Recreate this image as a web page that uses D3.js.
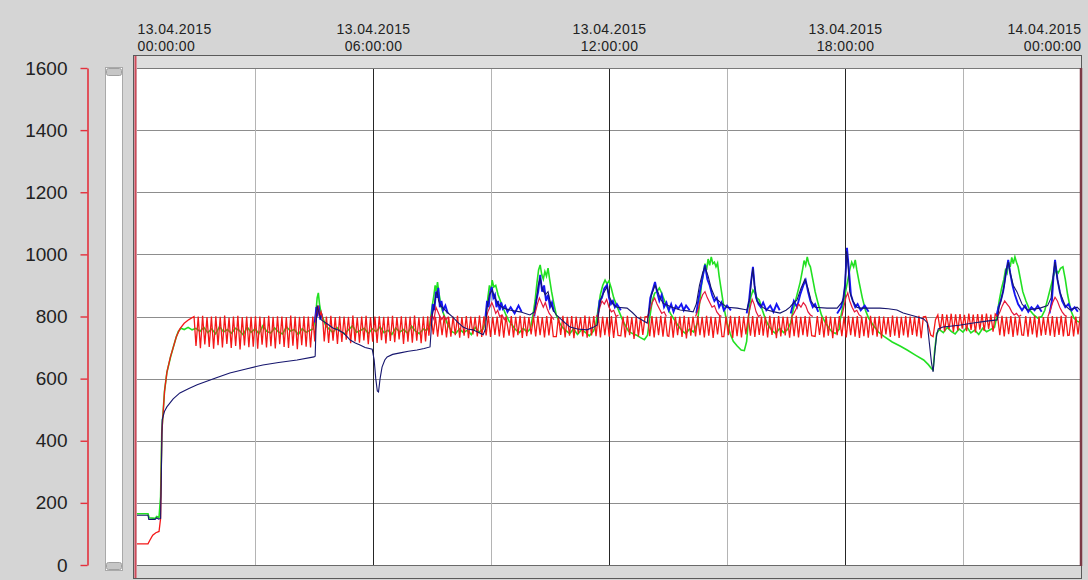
<!DOCTYPE html>
<html>
<head>
<meta charset="utf-8">
<script src="https://cdn.jsdelivr.net/npm/d3@7"></script>
<style>
  html, body { margin: 0; padding: 0; background: #d5d5d5; }
  svg { display: block; font-family: Arial, "Liberation Sans", sans-serif; }
</style>
</head>
<body>
<svg id="chart" width="1088" height="580"></svg>
<script>
// ---- data (hours since 13.04.2015 00:00, value) ----

const yTickValues = [0, 200, 400, 600, 800, 1000, 1200, 1400, 1600];
const xTickHours = [0, 6, 12, 18, 24];
const minorGridHours = [3, 9, 15, 21];
const majorGridHours = [6, 12, 18];

// dunkelblau (glatte Linie)
const navyPoints = [
  [0,160],[0.28,160],[0.30,147],[0.46,147],[0.50,152],[0.55,148],[0.60,150],[0.62,300],[0.64,467],
  [0.70,495],[0.76,509],[0.92,535],[1.09,554],[1.32,568],[1.53,580],[2.0,602],[2.36,618],[2.8,632],
  [3.20,644],[3.6,652],[4.07,660],[4.50,670],[4.53,672],[4.55,760],[4.58,835],[4.62,815],[4.68,790],
  [4.73,785],[4.85,775],[4.98,763],[5.1,757],[5.24,748],[5.34,735],[5.42,724],[5.55,715],[5.67,708],
  [5.8,700],[5.98,695],[6.03,660],[6.07,600],[6.11,560],[6.14,557],[6.18,600],[6.23,637],[6.30,660],
  [6.36,670],[6.5,678],[6.69,683],[6.9,688],[7.12,692],[7.3,697],[7.45,702],[7.47,740],[7.50,800],
  [7.55,830],[7.6,870],[7.63,880],[7.67,850],[7.72,835],[7.78,827],[7.9,812],[8.03,798],[8.15,782],
  [8.29,766],[8.4,760],[8.54,757],[8.7,748],[8.80,741],[8.86,760],[8.90,830],[8.96,870],[9.03,885],
  [9.1,860],[9.18,840],[9.31,827],[9.5,820],[9.74,815],[9.99,805],[10.1,815],[10.15,850],[10.2,900],
  [10.25,925],[10.3,890],[10.38,870],[10.45,880],[10.52,840],[10.58,821],[10.66,805],[10.75,795],
  [10.88,780],[11.01,766],[11.2,760],[11.44,757],[11.6,765],[11.70,773],[11.74,820],[11.8,860],
  [11.88,880],[11.95,895],[12.02,860],[12.1,840],[12.20,830],[12.46,827],[12.6,812],[12.71,798],
  [12.85,788],[12.97,779],[13.02,820],[13.08,870],[13.17,900],[13.24,880],[13.30,860],[13.37,843],
  [13.6,830],[13.81,821],[14.0,818],[14.14,815],[14.22,840],[14.30,900],[14.38,940],[14.44,960],
  [14.52,930],[14.60,890],[14.70,860],[14.82,847],[15.00,830],[15.26,827],[15.51,821],[15.58,860],
  [15.63,930],[15.66,955],[15.70,900],[15.76,850],[15.9,830],[16.02,821],[16.2,815],[16.35,811],
  [16.5,820],[16.60,830],[16.70,845],[16.78,853],[16.88,890],[16.98,920],[17.06,890],[17.14,850],
  [17.24,830],[17.54,827],[17.80,827],[17.95,850],[18.0,900],[18.04,1010],[18.07,980],[18.12,880],
  [18.2,850],[18.3,830],[18.38,827],[18.64,827],[18.89,827],[19.1,825],[19.32,821],[19.48,811],
  [19.8,800],[20.0,792],[20.09,780],[20.14,720],[20.20,650],[20.24,622],[20.28,680],[20.33,740],
  [20.37,760],[20.49,766],[20.9,772],[21.26,779],[21.6,785],[21.87,789],[21.92,830],[21.98,860],
  [22.05,900],[22.1,950],[22.15,975],[22.2,940],[22.28,900],[22.37,880],[22.5,840],[22.63,821],
  [22.96,827],[23.15,835],[23.24,860],[23.30,940],[23.34,975],[23.40,920],[23.47,876],[23.6,835],
  [23.72,821],[23.90,830],[24,818]
];

// blau (nur an den Spitzen sichtbar)
const blueSegments = [
  [[4.52,780],[4.56,830],[4.58,800],[4.62,835],[4.66,790],[4.70,810]],
  [[7.48,780],[7.52,840],[7.56,820],[7.60,880],[7.63,860],[7.66,892],[7.70,830],[7.74,850],[7.78,820],[7.84,835],[7.9,810]],
  [[8.86,800],[8.9,850],[8.94,830],[8.98,880],[9.02,895],[9.06,860],[9.1,870],[9.14,830],[9.18,850],[9.22,820],
   [9.26,845],[9.3,825],[9.36,835],[9.42,815],[9.5,830],[9.6,810],[9.7,835],[9.78,815]],
  [[10.1,800],[10.15,850],[10.2,880],[10.25,934],[10.3,880],[10.35,900],[10.4,850],[10.45,870],[10.5,830],[10.55,845],[10.6,815]],
  [[11.72,800],[11.76,850],[11.82,860],[11.88,890],[11.95,901],[12.0,860],[12.05,840],[12.1,850],[12.15,830],[12.2,840],[12.3,820]],
  [[13.0,800],[13.05,860],[13.1,880],[13.17,911],[13.22,880],[13.28,850],[13.34,870],[13.4,830],[13.46,845],[13.52,820],
   [13.58,840],[13.64,815],[13.7,835],[13.76,825],[13.84,840],[13.9,820],[13.96,835],[14.05,820]],
  [[14.22,810],[14.28,860],[14.34,900],[14.4,940],[14.44,966],[14.5,920],[14.56,900],[14.62,870],[14.68,850],
   [14.74,860],[14.8,830],[14.86,845],[14.92,820],[15.0,835],[15.1,820]],
  [[15.5,810],[15.56,850],[15.6,900],[15.66,960],[15.7,900],[15.74,860],[15.8,840],[15.86,830],[15.92,845],[16.0,820],
   [16.1,835],[16.18,815],[16.26,840],[16.34,820]],
  [[16.62,810],[16.7,850],[16.78,830],[16.86,870],[16.94,900],[17.0,917],[17.06,880],[17.12,850],[17.18,830],[17.24,840],[17.32,815]],
  [[17.8,810],[17.9,830],[17.96,860],[18.0,900],[18.05,1021],[18.1,950],[18.15,870],[18.2,850],[18.26,830],[18.32,840],
   [18.4,820],[18.5,835],[18.6,815]],
  [[21.85,800],[21.9,830],[21.96,850],[22.02,880],[22.08,930],[22.15,982],[22.2,940],[22.26,900],[22.32,870],[22.4,840],
   [22.5,820],[22.58,835],[22.66,815],[22.74,830],[22.82,820],[22.9,835],[23.0,815]],
  [[23.2,810],[23.26,850],[23.3,930],[23.34,982],[23.4,920],[23.46,880],[23.52,850],[23.6,830],[23.68,840],[23.76,820],[23.84,830],[23.92,815]]
];

// rot: Anlauf, Spitze und Einbruch als Punkte, Saegezahn als Abschnitte mit festem Zeitschritt
const redStep = 0.056;
const redPoints = [
  [0,68],[0.28,68],[0.32,78],[0.40,96],[0.48,104],[0.56,108],[0.60,150],[0.63,420],[0.70,560],[0.76,620],
  [0.85,670],[0.92,700],[1.0,735],[1.09,760],[1.2,778],[1.32,790],[1.45,800],
  [4.47,800],[4.52,720],[4.56,810],[4.60,835],[4.64,800],[4.68,815],[4.72,795],
  [20.05,800],[20.12,770],[20.18,740],[20.24,735],[20.30,790],[20.36,805]
];
const redSaw = [
  [1.50, [705,800,698,802,710,798,702,800,696,801, 708,799,700,803,712,797,699,800,705,802,
          694,798,707,800,701,799,703,801,696,800, 709,798,700,802,704,799,697,801,711,800,
          702,798,699,803,706,800,695,799,708,801, 703,800,700]],
  [4.76, [720,800,715,802,722,798,712,801,718,800, 725,799,714,803,720,797,716,800,723,802,
          711,798,719,800,715,801,724,799,713,800, 721,802,717,798,726,801,712,799,719,800,
          716,803,722,797,714,800,720,801]],
  [7.42, [738,801,742,799,735,802,740,800,733,798]],
  [7.98, [735,800,740,802,732,798,738,801,730,800,742,799,736,803,734]],
  [8.82, [800,739,802,734,799,741,800,736,803,732,800]],
  [9.46, [738,801,733,799,740,802,731,800,737,798,742]],
  [10.08, [800,736,802,740,798,733,801,739,800,735]],
  [10.66, [735,800,741,802,733,799,738,801,730,800,744,798,736,803,732,800,739,801]],
  [11.67, [737,802,733,800,740,798,735,801,731,799,739]],
  [12.30, [738,800,733,802,740,798,728,801,736,800,741,799]],
  [12.98, [800,737,801,733,799,740,802,735,800,738]],
  [13.52, [736,801,732,799,740,800,734,802,729,798,738,800]],
  [14.20, [736,801,740,799,733,802,738,800,731,798,742,801,735]],
  [14.92, [735,800,740,802,731,799,737,801,733,800,742]],
  [15.54, [800,738,801,734,799,741,800]],
  [15.92, [738,800,733,802,741,798,730,801,736,800,739,799,732]],
  [16.65, [800,737,802,733,799,740,801,735,800,738]],
  [17.24, [736,801,741,799,733,802,738,800,730,798,740,801]],
  [17.92, [737,800,733,802,740,799,735,801,731,800]],
  [18.48, [737,800,732,802,740,799,735,801,729,800, 742,798,734,803,738,800,731,799,739,801,
           733,800,741,798,736,802,730,799]],
  [20.42, [756,808,752,806,759,809,750,807,755,808, 761,805,753,809,757,806,749,808,758,807,
           754,809,760,806,751,808]],
  [21.88, [800,740,802,736,799,743,801,734,800,739,798,741]],
  [22.54, [740,801,735,799,742,802,733,800,738,798,741]],
  [23.16, [800,738,801,734,799,741,802,736,800,739]],
  [23.70, [740,802,736,800,742,801]]
];
// rote Buckel an den Spitzen (liegen ueber dem Saegezahn)
const redPeaks = [
  [[7.45,790],[7.50,805],[7.55,790],[7.60,830],[7.65,815],[7.70,800],[7.75,790],[7.80,802],[7.86,790],[7.92,800]],
  [[8.82,800],[8.87,790],[8.92,815],[8.97,830],[9.02,845],[9.07,830],[9.12,810],[9.17,820],[9.22,800],[9.28,805],[9.34,790],[9.40,800]],
  [[10.08,800],[10.13,815],[10.18,840],[10.23,860],[10.28,845],[10.33,830],[10.38,845],[10.43,825],[10.48,810],[10.54,800],[10.60,790]],
  [[11.67,800],[11.72,805],[11.77,830],[11.82,850],[11.88,840],[11.94,855],[12.0,830],[12.06,815],[12.12,820],[12.18,800],[12.24,805]],
  [[12.98,800],[13.04,820],[13.10,845],[13.16,860],[13.22,840],[13.28,825],[13.34,810],[13.40,815],[13.46,800]],
  [[14.20,800],[14.26,820],[14.32,850],[14.38,870],[14.44,880],[14.50,860],[14.56,845],[14.62,830],[14.68,835],[14.74,815],[14.80,805],[14.86,800]],
  [[15.54,800],[15.59,830],[15.64,855],[15.69,840],[15.74,815],[15.80,800],[15.86,805]],
  [[16.65,800],[16.70,810],[16.76,825],[16.82,840],[16.88,830],[16.94,845],[17.00,835],[17.06,815],[17.12,805],[17.18,800]],
  [[17.92,800],[17.97,830],[18.02,860],[18.07,876],[18.12,850],[18.18,830],[18.24,815],[18.30,820],[18.36,805],[18.42,800]],
  [[21.88,800],[21.94,815],[22.0,835],[22.06,850],[22.12,840],[22.18,830],[22.24,815],[22.30,805],[22.36,810],[22.42,800],[22.48,805]],
  [[23.16,800],[23.22,820],[23.28,845],[23.34,862],[23.40,850],[23.46,830],[23.52,815],[23.58,805],[23.64,800]]
];

// gruen: Spitzen als Punkte, Band als Abschnitte mit festem Zeitschritt
const greenStep = 0.1;
const greenPoints = [
  [0,165],[0.28,165],[0.31,152],[0.46,150],[0.50,156],[0.56,153],[0.60,220],[0.63,430],[0.70,560],[0.76,620],
  [0.85,668],[0.92,700],[1.0,735],[1.05,752],[1.12,762],[1.2,758],[1.3,765],[1.4,757],[1.5,762],
  [4.48,760],[4.54,800],[4.58,860],[4.61,876],[4.64,840],[4.68,810],[4.74,790],[4.80,770],
  [7.36,755],[7.44,770],[7.50,830],[7.55,870],[7.58,900],[7.61,880],[7.64,911],[7.67,880],[7.71,850],[7.76,820],
  [7.82,800],[7.88,780],[7.94,765],
  [8.80,760],[8.86,790],[8.92,860],[8.96,900],[9.00,880],[9.03,917],[9.07,895],[9.12,900],[9.18,870],[9.24,850],
  [9.30,830],[9.38,805],[9.46,785],[9.55,770],
  [10.0,760],[10.06,800],[10.12,850],[10.17,910],[10.21,950],[10.25,966],[10.29,935],[10.33,920],[10.37,945],
  [10.41,930],[10.45,956],[10.49,920],[10.54,880],[10.60,840],[10.66,805],[10.74,780],[10.82,765],
  [11.66,770],[11.72,820],[11.78,870],[11.84,900],[11.90,917],[11.95,905],[12.0,915],[12.06,890],[12.12,860],
  [12.18,840],[12.26,815],[12.34,790],[12.42,770],
  [12.98,740],[13.04,800],[13.10,850],[13.16,875],[13.22,880],[13.28,892],[13.34,875],[13.40,855],[13.48,830],
  [13.56,810],[13.66,790],[13.76,770],
  [14.25,780],[14.30,840],[14.35,900],[14.40,940],[14.44,970],[14.48,950],[14.52,985],[14.56,965],[14.60,992],
  [14.64,970],[14.68,975],[14.72,960],[14.76,972],[14.80,930],[14.86,880],[14.92,830],[15.0,780],[15.08,745],
  [15.16,720],[15.26,705],[15.36,692],[15.44,690],[15.50,720],[15.55,800],[15.60,860],[15.66,885],[15.71,875],
  [15.76,860],[15.82,853],[15.90,820],[15.98,790],[16.06,770],
  [16.62,780],[16.68,820],[16.74,850],[16.80,880],[16.86,910],[16.92,950],[16.96,980],[17.00,965],[17.04,992],
  [17.08,970],[17.12,960],[17.18,920],[17.24,880],[17.32,840],[17.40,805],[17.50,780],[17.58,765],
  [17.88,790],[17.94,830],[18.00,870],[18.06,910],[18.12,950],[18.17,975],[18.22,960],[18.26,982],[18.30,950],
  [18.36,910],[18.44,860],[18.52,820],[18.60,795],[18.70,775],[18.85,750],[19.0,735],[19.2,718],[19.4,705],
  [19.58,692],[19.8,675],[20.0,660],[20.12,645],[20.2,632],[20.24,628],[20.28,690],[20.33,745],
  [21.80,765],[21.86,800],[21.92,850],[21.98,890],[22.04,920],[22.08,950],[22.12,940],[22.16,975],[22.20,960],
  [22.24,990],[22.28,970],[22.32,992],[22.36,975],[22.40,960],[22.46,920],[22.52,880],[22.60,850],[22.70,820],
  [22.80,805],[22.90,795],[23.00,800],[23.08,820],[23.16,860],[23.24,900],[23.30,930],[23.36,950],[23.42,940],
  [23.48,955],[23.54,960],[23.60,920],[23.66,870],[23.74,820],[23.82,795],[23.90,785],[24,780]
];
const greenBand = [
  [1.6, [752,765,748,760,744,768,750,758,746,762, 755,741,766,749,760,745,770,752,747,763, 750,744,767,753,758,742,761,749,756]],
  [4.88, [760,748,765,752,744,758,770,749,755,762, 745,760,751,767,748,756,742,763,750,758, 746,769,753,745,760]],
  [8.0, [752,745,760,748,756,742,765,750]],
  [9.62, [758,748,762,750]],
  [10.9, [755,745,760,742,757,749,738,752]],
  [12.5, [752,745,740,732,725]],
  [13.85, [755,745,760,750]],
  [16.14, [755,745,762,748,758]],
  [17.66, [752,745,760]],
  [20.4, [758,748,765,752,744,760,750,766,747,756,742,762,751,758]]
];

// ---- Aufbau ----

const width = 1088, height = 580;
const plot = { left: 137, right: 1081, top: 68, bottom: 565 };

const t0 = new Date(2015, 3, 13, 0, 0, 0);
const toDate = h => new Date(t0.getTime() + h * 36e5);

const x = d3.scaleTime().domain([t0, toDate(24)]).range([plot.left, plot.right]);
const y = d3.scaleLinear().domain([0, 1600]).range([plot.bottom, plot.top]);

const expand = (chunks, step) =>
  chunks.flatMap(([h0, vals]) => vals.map((v, i) => [h0 + i * step, v]));
const byTime = (a, b) => a[0] - b[0];

const red = redPoints.concat(expand(redSaw, redStep)).sort(byTime);
const green = greenPoints.concat(expand(greenBand, greenStep)).sort(byTime);

const svg = d3.select('#chart');

svg.append('rect').attr('width', width).attr('height', height).attr('fill', '#d5d5d5');

// Rahmen
svg.append('rect')
  .attr('x', 133.5).attr('y', 55.5).attr('width', 948).attr('height', 523)
  .attr('fill', '#d9d9d9').attr('stroke', '#5a5a5a');
svg.append('rect')
  .attr('x', 134).attr('y', 56).attr('width', 947).attr('height', 12)
  .attr('fill', '#dedede');
svg.append('rect')
  .attr('x', plot.left).attr('y', plot.top)
  .attr('width', plot.right - plot.left - 1).attr('height', plot.bottom - plot.top)
  .attr('fill', '#ffffff');

// Gitter
const grid = svg.append('g');
grid.selectAll('line.h')
  .data(yTickValues.filter(v => v > 0 && v < 1600))
  .join('line')
  .attr('x1', plot.left).attr('x2', plot.right - 1)
  .attr('y1', d => Math.round(y(d)) + 0.5).attr('y2', d => Math.round(y(d)) + 0.5)
  .attr('stroke', '#8d8d8d');
grid.selectAll('line.minor')
  .data(minorGridHours)
  .join('line')
  .attr('x1', d => Math.round(x(toDate(d))) + 0.5).attr('x2', d => Math.round(x(toDate(d))) + 0.5)
  .attr('y1', plot.top).attr('y2', plot.bottom)
  .attr('stroke', '#b4b4b4');
grid.selectAll('line.major')
  .data(majorGridHours)
  .join('line')
  .attr('x1', d => Math.round(x(toDate(d))) + 0.5).attr('x2', d => Math.round(x(toDate(d))) + 0.5)
  .attr('y1', plot.top).attr('y2', plot.bottom)
  .attr('stroke', '#262626');
grid.append('line')
  .attr('x1', plot.left).attr('x2', plot.right).attr('y1', plot.top + 0.5).attr('y2', plot.top + 0.5)
  .attr('stroke', '#7a7a7a');
grid.append('line')
  .attr('x1', plot.left).attr('x2', plot.right).attr('y1', plot.bottom + 0.5).attr('y2', plot.bottom + 0.5)
  .attr('stroke', '#6a6a6a');

// Kurven
svg.append('clipPath').attr('id', 'clip')
  .append('rect')
  .attr('x', plot.left).attr('y', plot.top)
  .attr('width', plot.right - plot.left - 1).attr('height', plot.bottom - plot.top);

const line = d3.line()
  .x(d => x(toDate(d[0])))
  .y(d => y(d[1]));

const series = svg.append('g').attr('clip-path', 'url(#clip)');
series.append('path').datum(green)
  .attr('d', line).attr('fill', 'none').attr('stroke', '#22e022').attr('stroke-width', 1.6);
series.selectAll('path.blue').data(blueSegments).join('path')
  .attr('d', line).attr('fill', 'none').attr('stroke', '#1515f2').attr('stroke-width', 1.9);
series.append('path').datum(red)
  .attr('d', line).attr('fill', 'none').attr('stroke', '#f41818').attr('stroke-width', 1.3);
series.selectAll('path.redpeak').data(redPeaks).join('path')
  .attr('d', line).attr('fill', 'none').attr('stroke', '#e5183a').attr('stroke-width', 1.2);
series.append('path').datum(navyPoints)
  .attr('d', line).attr('fill', 'none').attr('stroke', '#16166e').attr('stroke-width', 1.1);

// linker / rechter Rand
svg.append('line')
  .attr('x1', 135.5).attr('x2', 135.5).attr('y1', 56).attr('y2', 578)
  .attr('stroke', '#cf4a5a').attr('stroke-width', 2);
svg.append('line')
  .attr('x1', 1081).attr('x2', 1081).attr('y1', 68).attr('y2', 566)
  .attr('stroke', '#7b3a46').attr('stroke-width', 2.5);

// Scrollleiste
svg.append('rect')
  .attr('x', 105.5).attr('y', 67.5).attr('width', 17).attr('height', 503)
  .attr('fill', '#ffffff').attr('stroke', '#a9a9a9');
svg.append('rect')
  .attr('x', 106.5).attr('y', 68.5).attr('width', 15).attr('height', 7).attr('rx', 2)
  .attr('fill', '#c6c6c6').attr('stroke', '#a0a0a0');
svg.append('rect')
  .attr('x', 106.5).attr('y', 562.5).attr('width', 15).attr('height', 7).attr('rx', 2)
  .attr('fill', '#c6c6c6').attr('stroke', '#a0a0a0');

// Y-Achse
const gy = svg.append('g')
  .attr('transform', 'translate(87.5,0)')
  .call(d3.axisLeft(y).tickValues(yTickValues).tickFormat(d3.format('d'))
    .tickSize(7).tickSizeOuter(0).tickPadding(13));
gy.select('.domain').attr('stroke', '#e3303c').attr('stroke-width', 1.6);
gy.selectAll('.tick line').attr('stroke', '#e3303c').attr('stroke-width', 1.4);
gy.selectAll('.tick text')
  .attr('fill', '#222').style('font-size', '19px')
  .style('font-family', 'Arial, "Liberation Sans", sans-serif');

// X-Achse oben (zweizeilig, jede Zeile eigener Text)
const fmtDate = d3.timeFormat('%d.%m.%Y');
const fmtTime = d3.timeFormat('%H:%M:%S');
const gx = svg.append('g')
  .call(d3.axisTop(x).tickValues(xTickHours.map(toDate)).tickSize(0));
gx.select('.domain').remove();
gx.selectAll('.tick text').remove();
const lastTick = xTickHours.length - 1;
gx.selectAll('.tick').each(function (d, i) {
  const tick = d3.select(this);
  const anchor = i === 0 ? 'start' : (i === lastTick ? 'end' : 'middle');
  [[34, fmtDate(d)], [50.5, fmtTime(d)]].forEach(([yy, label]) => {
    tick.append('text')
      .attr('x', 0).attr('y', yy)
      .attr('text-anchor', anchor)
      .attr('fill', '#222')
      .style('font-size', '14px')
      .style('letter-spacing', '0.4px')
      .style('font-family', 'Arial, "Liberation Sans", sans-serif')
      .text(label);
  });
});
</script>
</body>
</html>
